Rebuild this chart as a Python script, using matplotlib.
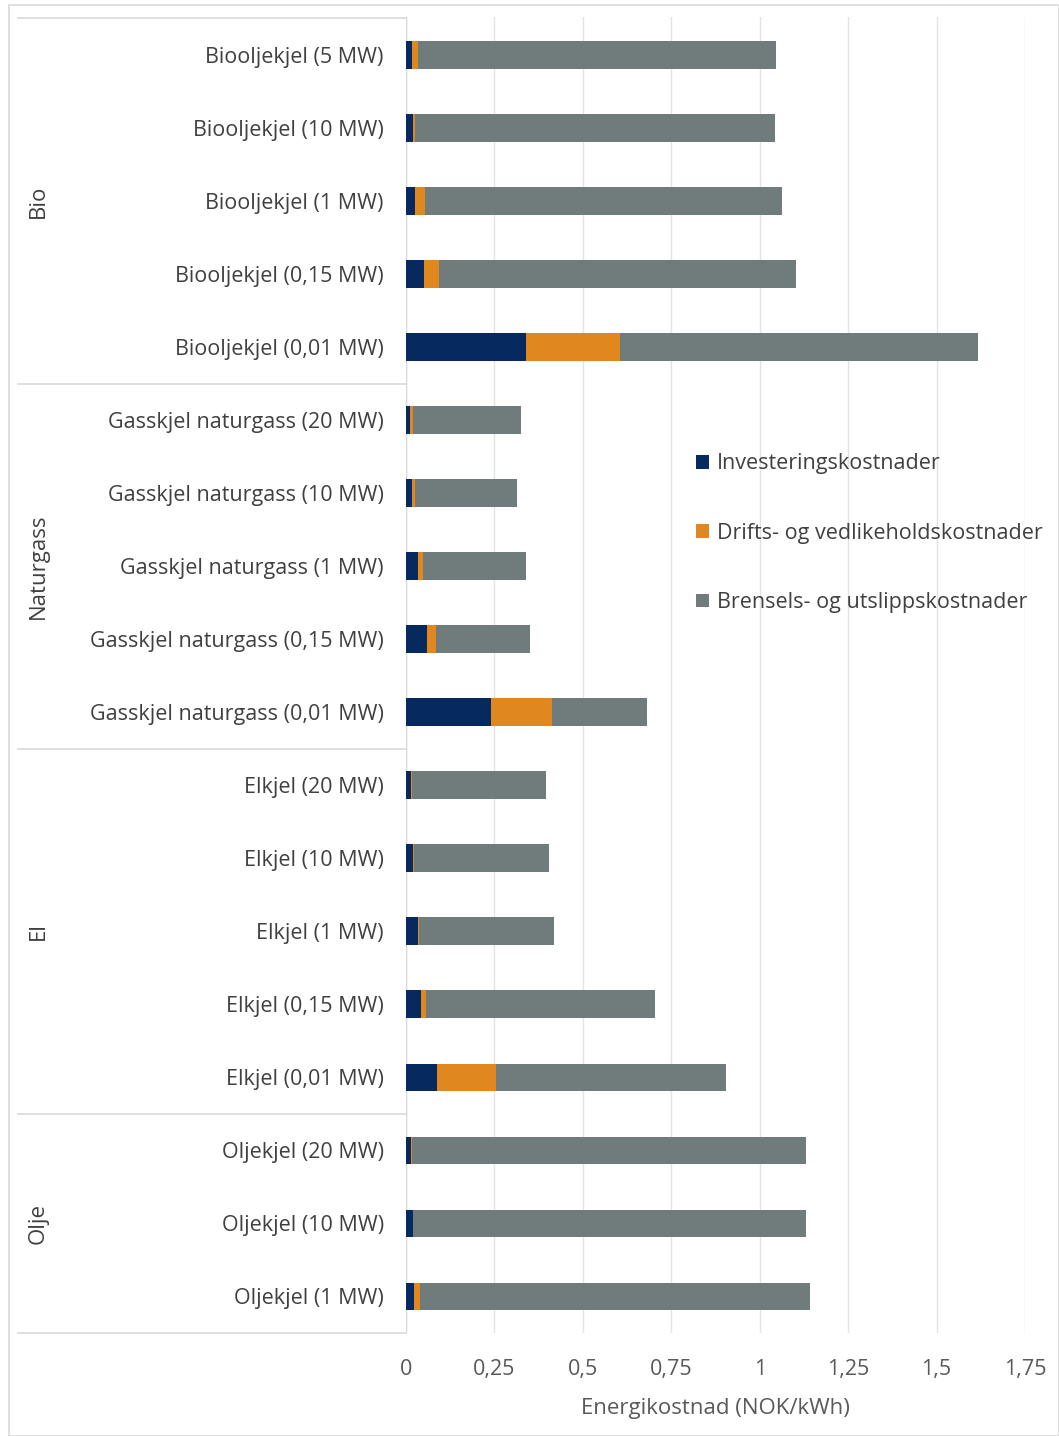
import matplotlib
matplotlib.use("Agg")
import matplotlib.pyplot as plt
from matplotlib.patches import Rectangle
from matplotlib.lines import Line2D
from matplotlib.transforms import blended_transform_factory
import numpy as np

plt.rcParams['font.family'] = ['Open Sans', 'DejaVu Sans']

categories = [
    "Biooljekjel (5 MW)", "Biooljekjel (10 MW)", "Biooljekjel (1 MW)",
    "Biooljekjel (0,15 MW)", "Biooljekjel (0,01 MW)",
    "Gasskjel naturgass (20 MW)", "Gasskjel naturgass (10 MW)",
    "Gasskjel naturgass (1 MW)", "Gasskjel naturgass (0,15 MW)",
    "Gasskjel naturgass (0,01 MW)",
    "Elkjel (20 MW)", "Elkjel (10 MW)", "Elkjel (1 MW)",
    "Elkjel (0,15 MW)", "Elkjel (0,01 MW)",
    "Oljekjel (20 MW)", "Oljekjel (10 MW)", "Oljekjel (1 MW)",
]
groups = ["Bio", "Naturgass", "El", "Olje"]
group_sizes = [5, 5, 5, 3]

investering = [0.017, 0.019, 0.025, 0.051, 0.340,
               0.011, 0.017, 0.033, 0.059, 0.240,
               0.015, 0.019, 0.033, 0.042, 0.089,
               0.013, 0.019, 0.023]
drift = [0.016, 0.007, 0.028, 0.042, 0.266,
         0.010, 0.008, 0.014, 0.025, 0.173,
         0.001, 0.003, 0.004, 0.015, 0.165,
         0.004, 0.002, 0.017]
brensel = [1.012, 1.016, 1.009, 1.009, 1.011,
           0.305, 0.289, 0.293, 0.267, 0.267,
           0.381, 0.383, 0.382, 0.648, 0.650,
           1.113, 1.109, 1.102]

series_names = ["Investeringskostnader", "Drifts- og vedlikeholdskostnader",
                "Brensels- og utslippskostnader"]
colors = ["#062a5f", "#e0871d", "#707c7c"]
xticks = [0, 0.25, 0.5, 0.75, 1, 1.25, 1.5, 1.75]
xticklabels = ["0", "0,25", "0,5", "0,75", "1", "1,25", "1,5", "1,75"]

W, H = 1059, 1436
fig = plt.figure(figsize=(W / 100, H / 100), dpi=100)
# outer border
fig.patches.append(Rectangle((9 / W, 0), 1 - 9 / W, 1 - 5 / H, transform=fig.transFigure,
                             fill=False, edgecolor="#d9d9d9", lw=1.2))

ax = fig.add_axes([406 / W, 1 - 1333 / H, (1025 - 406) / W, (1333 - 17) / H])
y = np.arange(len(categories))
inv = np.array(investering); dr = np.array(drift); br = np.array(brensel)
h = 0.38
ax.barh(y, inv, height=h, color=colors[0], label=series_names[0], zorder=3)
ax.barh(y, dr, left=inv, height=h, color=colors[1], label=series_names[1], zorder=3)
ax.barh(y, br, left=inv + dr, height=h, color=colors[2], label=series_names[2], zorder=3)

ax.set_ylim(len(categories) - 0.5, -0.52)
ax.set_xlim(0, 1.75)
ax.set_xticks(xticks)
ax.set_xticklabels(xticklabels, fontsize=15.5, color="#595959")
ax.set_yticks(y)
ax.set_yticklabels(categories, fontsize=15.5, color="#404040")
ax.tick_params(axis="both", length=0)
ax.tick_params(axis="y", pad=16)
ax.tick_params(axis="x", pad=19)
for s in ax.spines.values():
    s.set_visible(False)
ax.grid(axis="x", color="#e3e3e3", lw=1, zorder=0)
ax.set_axisbelow(True)
ax.axvline(0, color="#d9d9d9", lw=1, zorder=1)
ax.set_xlabel("Energikostnad (NOK/kWh)", fontsize=16, color="#595959", labelpad=13)

# group table on left
tr = blended_transform_factory(fig.transFigure, ax.transData)
x0, x1 = 18 / W, 406 / W
start = 0
bounds = [-0.5]
for g, n in zip(groups, group_sizes):
    end = start + n
    bounds.append(end - 0.5)
    mid = (start + end - 1) / 2
    ax.text(38 / W, mid, g, transform=tr, rotation=90, ha="center", va="center",
            fontsize=16, color="#404040")
    start = end
for b in bounds:
    ax.add_line(Line2D([x0, x1], [b, b], transform=tr, color="#d9d9d9", lw=1.2, clip_on=False))

leg = ax.legend(loc="upper left", bbox_to_anchor=(0.455, 0.675), frameon=False,
                fontsize=15.5, labelcolor="#404040", handlelength=0.6, handleheight=0.6,
                handletextpad=0.35, labelspacing=2.25, borderaxespad=0)

fig.savefig("out.png", dpi=100)
